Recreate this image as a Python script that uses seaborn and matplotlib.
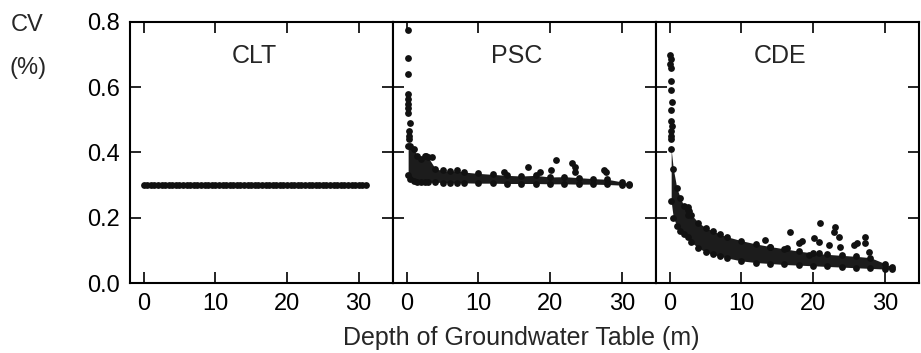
import matplotlib
matplotlib.use('Agg')
import pandas as pd
import matplotlib.pyplot as plt
import seaborn as sns

# CLT: constant CV along depth
clt_depth = [0, 0.5, 1, 1.5, 2, 2.5, 3, 3.5, 4, 4.5, 5, 5.5, 6, 6.5, 7, 7.5, 8, 8.5,
             9, 9.5, 10, 10.5, 11, 11.5, 12, 12.5, 13, 13.5, 14, 14.5, 15, 15.5, 16,
             16.5, 17, 17.5, 18, 18.5, 19, 19.5, 20, 20.5, 21, 21.5, 22, 22.5, 23,
             23.5, 24, 24.5, 25, 25.5, 26, 26.5, 27, 27.5, 28, 28.5, 29, 29.5, 30,
             30.5, 31]
clt_cv = [0.30] * len(clt_depth)

# band of dense points (lower / upper edge) for PSC and CDE
band_depth = [0.2, 0.5, 1.0, 1.5, 2.0, 2.5, 3.0, 4.0, 5.0, 6.0, 7.0, 8.0, 10.0, 12.0,
              14.0, 16.0, 18.0, 20.0, 22.0, 24.0, 26.0, 28.0, 30.0, 31.0]
psc_low = [0.33, 0.318, 0.313, 0.311, 0.310, 0.310, 0.309, 0.309, 0.308, 0.308, 0.307,
           0.307, 0.306, 0.306, 0.305, 0.305, 0.305, 0.304, 0.304, 0.303, 0.303, 0.302,
           0.300, 0.300]
psc_high = [0.42, 0.42, 0.41, 0.39, 0.38, 0.39, 0.385, 0.35, 0.345, 0.342, 0.345, 0.340,
            0.336, 0.333, 0.330, 0.328, 0.330, 0.325, 0.326, 0.323, 0.320, 0.318, 0.310,
            0.305]
cde_low = [0.25, 0.20, 0.175, 0.16, 0.15, 0.14, 0.125, 0.108, 0.095, 0.088, 0.082, 0.077,
           0.068, 0.063, 0.060, 0.057, 0.055, 0.053, 0.051, 0.049, 0.047, 0.045, 0.043,
           0.042]
cde_high = [0.41, 0.35, 0.29, 0.26, 0.235, 0.225, 0.21, 0.185, 0.17, 0.16, 0.15, 0.142,
            0.13, 0.12, 0.112, 0.105, 0.098, 0.092, 0.088, 0.085, 0.082, 0.078, 0.06,
            0.05]

# scattered single points
psc_pts_depth = [0.15, 0.25, 0.2, 0.15, 0.2, 0.25, 0.15, 0.2, 0.45, 0.3, 0.35, 0.3,
                 2.7, 3.5, 13.6, 16.9, 18.6, 20.2, 20.9, 23.0, 23.5, 23.5, 27.5, 27.8]
psc_pts_cv = [0.775, 0.69, 0.64, 0.58, 0.565, 0.55, 0.535, 0.52, 0.49, 0.465, 0.45, 0.44,
              0.39, 0.385, 0.34, 0.356, 0.34, 0.346, 0.377, 0.367, 0.356, 0.34, 0.345, 0.34]
cde_pts_depth = [0.1, 0.15, 0.1, 0.2, 0.15, 0.2, 0.25, 0.2, 0.15, 0.25, 0.2, 0.15, 0.2,
                 2.6, 2.7, 2.5, 20.9, 23.1, 22.9, 23.6, 16.8, 13.3, 18.4, 18.0, 20.1,
                 20.8, 22.2, 25.7, 26.1, 27.2, 27.2, 23.8, 27.8, 19.4, 20.8, 14.0, 16.3]
cde_pts_cv = [0.70, 0.685, 0.67, 0.66, 0.62, 0.59, 0.555, 0.53, 0.495, 0.48, 0.465, 0.45,
              0.44, 0.233, 0.22, 0.21, 0.184, 0.172, 0.157, 0.141, 0.156, 0.132, 0.129,
              0.123, 0.138, 0.126, 0.116, 0.116, 0.122, 0.141, 0.123, 0.11, 0.095, 0.086,
              0.092, 0.11, 0.107]

panel_names = ['CLT', 'PSC', 'CDE']
x_ticks = [0, 10, 20, 30]
y_ticks = [0.0, 0.2, 0.4, 0.6, 0.8]
y_tick_labels = ['0.0', '0.2', '0.4', '0.6', '0.8']

sns.set_style('ticks')
plt.rcParams['font.family'] = ['Liberation Sans', 'DejaVu Sans']

fig, axes = plt.subplots(1, 3, figsize=(9.21, 3.53), dpi=100, sharey=True)
fig.subplots_adjust(left=0.1412, right=0.998, bottom=0.198, top=0.938, wspace=0)

dot = dict(color='#111111', s=24, edgecolor=None, linewidth=0)

# CLT - points sit so close they read as one thick line
sns.lineplot(x=clt_depth, y=clt_cv, ax=axes[0], color='#111111', linewidth=3.5)
sns.scatterplot(x=clt_depth, y=clt_cv, ax=axes[0], **dot)

# PSC
axes[1].fill_between(band_depth, psc_low, psc_high, color='#1c1c1c', linewidth=0)
sns.scatterplot(x=band_depth, y=psc_low, ax=axes[1], **dot)
sns.scatterplot(x=band_depth, y=psc_high, ax=axes[1], **dot)
sns.scatterplot(x=psc_pts_depth, y=psc_pts_cv, ax=axes[1], **dot)

# CDE
axes[2].fill_between(band_depth, cde_low, cde_high, color='#1c1c1c', linewidth=0)
sns.scatterplot(x=band_depth, y=cde_low, ax=axes[2], **dot)
sns.scatterplot(x=band_depth, y=cde_high, ax=axes[2], **dot)
sns.scatterplot(x=cde_pts_depth, y=cde_pts_cv, ax=axes[2], **dot)

for i, ax in enumerate(axes):
    ax.set_xlim(-1.9, 34.8)
    ax.set_ylim(0, 0.8)
    ax.set_xticks(x_ticks)
    ax.set_xticklabels([str(t) for t in x_ticks])
    ax.tick_params(direction='in', top=True, right=True, length=8, width=1.2,
                   labelsize=17, pad=7, colors='black')
    for sp in ax.spines.values():
        sp.set_visible(True)
        sp.set_linewidth(1.5)
        sp.set_color('black')
    ax.text(15.4, 0.695, panel_names[i], fontsize=18, ha='center', va='center')
    ax.set_xlabel('')
    ax.set_ylabel('')
    if i > 0:
        ax.tick_params(labelleft=False)

axes[0].set_yticks(y_ticks)
axes[0].set_yticklabels(y_tick_labels)

fig.text(0.029, 0.928, 'CV', fontsize=17, ha='center', va='center')
fig.text(0.031, 0.807, '(%)', fontsize=17, ha='center', va='center')
fig.text(0.566, 0.0425, 'Depth of Groundwater Table (m)', fontsize=18,
         ha='center', va='center')

fig.savefig('out.png', dpi=100)
